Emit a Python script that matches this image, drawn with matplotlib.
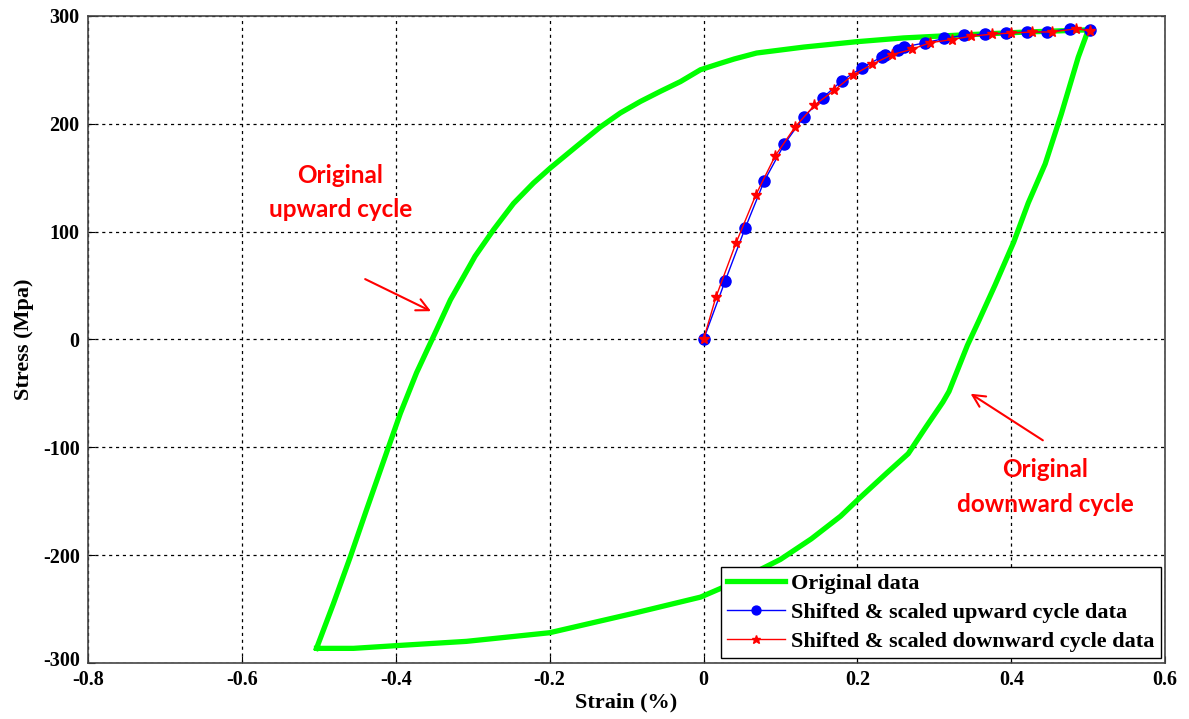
import matplotlib.pyplot as plt
from matplotlib.transforms import ScaledTranslation

# original hysteresis loop: upward branch, then downward branch back to the start
orig_strain = [-0.503, -0.481, -0.459, -0.438, -0.410, -0.394, -0.373, -0.358,
               -0.347, -0.329, -0.312, -0.297, -0.273, -0.247, -0.221, -0.199,
               -0.165, -0.134, -0.108, -0.082, -0.056, -0.030, -0.004, 0.022,
               0.040, 0.069, 0.130, 0.199, 0.260, 0.329, 0.420, 0.500,
               0.487, 0.465, 0.444, 0.422, 0.403, 0.379, 0.358, 0.343, 0.319,
               0.311, 0.289, 0.266, 0.238, 0.203, 0.178, 0.140, 0.100, 0.050,
               0.022, -0.004, -0.091, -0.200, -0.308, -0.400, -0.455, -0.503]
orig_stress = [-286.5, -245, -201.5, -158, -101, -68.5, -31, -8,
               8.8, 36.6, 58, 77, 101.6, 126, 145, 159,
               179, 197, 210, 220.6, 230, 239, 250, 256,
               260, 265.5, 271, 276, 279.5, 282, 285, 287,
               261.7, 209, 162.7, 126.5, 90, 50.6, 17.6, -5.4, -48.3,
               -58.2, -81.3, -106, -124, -147, -164, -185, -204, -222,
               -231, -239, -254, -272, -280, -284, -286.5, -286.5]

up_strain = [0.000, 0.028, 0.054, 0.079, 0.105, 0.130, 0.155, 0.180, 0.206,
             0.232, 0.236, 0.253, 0.260, 0.288, 0.313, 0.338, 0.366, 0.393,
             0.421, 0.447, 0.476, 0.502]
up_stress = [0, 54, 103, 147, 181, 206, 224, 240, 252,
             262, 264, 268, 271, 275, 279, 282, 283, 284,
             285, 285, 288, 287]

down_strain = [0.000, 0.016, 0.042, 0.068, 0.093, 0.119, 0.144, 0.170, 0.194,
               0.219, 0.245, 0.271, 0.294, 0.323, 0.347, 0.375, 0.399, 0.427,
               0.453, 0.484, 0.502]
down_stress = [0, 39, 89, 134, 170, 197, 217, 231, 245,
               255, 264, 269, 275, 278, 281, 283, 284, 285,
               285, 288, 286]

xticks = [-0.8, -0.6, -0.4, -0.2, 0, 0.2, 0.4, 0.6]
yticks = [-300, -200, -100, 0, 100, 200, 300]

serif = "Liberation Serif"

fig = plt.figure(figsize=(11.89, 7.19), dpi=100)
ax = fig.add_axes([0.074, 0.078, 0.906, 0.9])

ax.plot(orig_strain, orig_stress, color="#00ff00", lw=3.8,
        solid_joinstyle="round", label="Original data", zorder=3)
ax.plot(up_strain, up_stress, color="blue", lw=1, marker="o", ms=8,
        label="Shifted & scaled upward cycle data", zorder=4)
ax.plot(down_strain, down_stress, color="red", lw=1, marker="*", ms=8,
        label="Shifted & scaled downward cycle data", zorder=5)

ax.set_xlim(-0.8, 0.6)
ax.set_ylim(-300, 300)
ax.set_xticks(xticks)
ax.set_yticks(yticks)
ax.set_xticklabels([f"{v:g}" for v in xticks])
ax.set_yticklabels([str(v) for v in yticks])
ax.grid(True, color="black", linestyle=(0, (2.5, 3)), lw=0.9)
ax.tick_params(direction="in", length=5, width=0.8)
ax.tick_params(axis="x", pad=5)
ax.tick_params(axis="y", pad=6)
for lab in ax.get_xticklabels() + ax.get_yticklabels():
    lab.set_fontfamily(serif)
    lab.set_fontweight("bold")
    lab.set_fontsize(14.5)
# lift the bottom stress label a little so it clears the first strain label
bottom_lab = ax.get_yticklabels()[0]
bottom_lab.set_transform(bottom_lab.get_transform()
                         + ScaledTranslation(0, 3 / 72, fig.dpi_scale_trans))
for sp in ax.spines.values():
    sp.set_color("#444444")
    sp.set_linewidth(1.2)

ax.set_xlabel("Strain (%)", fontfamily=serif, fontweight="bold", fontsize=16, labelpad=2)
ax.set_ylabel("Stress (Mpa)", fontfamily=serif, fontweight="bold", fontsize=16, labelpad=6)

red = "#ff0000"
ax.annotate("", xy=(-0.351, 25), xytext=(-0.443, 57),
            arrowprops=dict(arrowstyle="->", color=red, lw=1.5, mutation_scale=22))
ax.text(-0.472, 136, "Original\nupward cycle", color=red, fontsize=17.5,
        fontweight="bold", fontfamily="Lato", ha="center", va="center",
        linespacing=1.6)
ax.annotate("", xy=(0.344, -49), xytext=(0.444, -95),
            arrowprops=dict(arrowstyle="->", color=red, lw=1.5, mutation_scale=22))
ax.text(0.444, -137, "Original\ndownward cycle", color=red, fontsize=17.5,
        fontweight="bold", fontfamily="Lato", ha="center", va="center",
        linespacing=1.6)

leg = ax.legend(loc="lower right", prop=dict(family=serif, weight="bold", size=16),
                fancybox=False, framealpha=1, edgecolor="black", borderpad=0.3,
                labelspacing=0.38, handlelength=2.6, handletextpad=0.25,
                borderaxespad=0.2, markerscale=0.8)
leg.get_frame().set_linewidth(1.0)

fig.savefig("out.png", dpi=100)
